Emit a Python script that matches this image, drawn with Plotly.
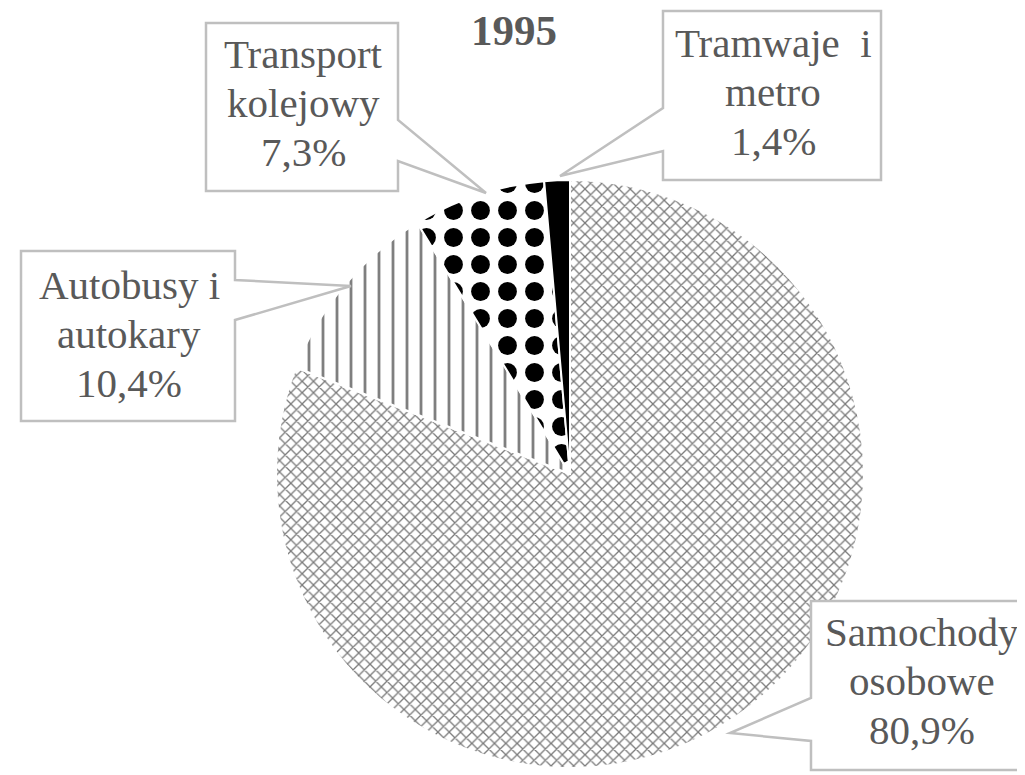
import plotly.graph_objects as go

# ---- data ----
categories = ["Samochody osobowe", "Autobusy i autokary", "Transport kolejowy", "Tramwaje i metro"]
values = [80.9, 10.4, 7.3, 1.4]
label_lines = [
    ["Samochody", "osobowe", "80,9%"],
    ["Autobusy i", "autokary", "10,4%"],
    ["Transport", "kolejowy", "7,3%"],
    ["Tramwaje  i", "metro", "1,4%"],
]
title_text = "1995"

# ---- layout constants (pixels) ----
W, H = 1025, 775
def px(x):
    return x / W
def py(y):
    return 1 - y / H

# pie geometry
cx, cy, r = 562, 466, 294

# callout boxes: left, top, right, bottom, side of pointer, pointer y1, y2, tip, text centre x, first line centre y
callouts = [
    dict(box=(803, 593, 1023, 762), side="left", p=(690, 733), tip=(722, 725), tx=914, ty=624),
    dict(box=(13, 243, 227, 413), side="right", p=(272, 312), tip=(343, 278), tx=121, ty=277),
    dict(box=(198, 15, 390, 183), side="right", p=(112, 153), tip=(478, 185), tx=295, ty=46),
    dict(box=(655, 3, 873, 172), side="left", p=(100, 143), tip=(552, 168), tx=765, ty=35),
]
LINE_GAP = 49

GRAY_TXT = "#595959"
BOX_LINE = "#bfbfbf"
FONT = "Liberation Serif, Times New Roman, serif"
FSIZE = 41

fig = go.Figure(go.Pie(
    labels=categories,
    values=values,
    sort=False,
    direction="clockwise",
    rotation=0,
    textinfo="none",
    hoverinfo="skip",
    showlegend=False,
    domain=dict(x=[px(cx - r), px(cx + r)], y=[py(cy + r), py(cy - r)]),
    marker=dict(
        colors=["white", "white", "white", "black"],
        line=dict(color="white", width=2),
        pattern=dict(
            shape=["x", "|", ".", ""],
            fgcolor=["#7a7a7a", "#7f7f7f", "#000000", "#000000"],
            bgcolor=["white", "white", "white", "black"],
            size=[8, 14, 27, 8],
            solidity=[0.3, 0.2, 0.38, 1],
            fillmode="replace",
        ),
    ),
))

shapes = []
annotations = []
for lines, c in zip(label_lines, callouts):
    l, t, rr, b = c["box"]
    y1, y2 = c["p"]
    tx, ty = c["tip"]
    if c["side"] == "right":
        pts = [(l, t), (rr, t), (rr, y1), (tx, ty), (rr, y2), (rr, b), (l, b)]
    else:
        pts = [(l, t), (rr, t), (rr, b), (l, b), (l, y2), (tx, ty), (l, y1)]
    path = "M " + " L ".join(f"{px(x):.5f},{py(y):.5f}" for x, y in pts) + " Z"
    shapes.append(dict(type="path", xref="paper", yref="paper", path=path,
                       line=dict(color=BOX_LINE, width=2.5), fillcolor="white", layer="above"))
    for i, line in enumerate(lines):
        annotations.append(dict(
            x=px(c["tx"]), y=py(c["ty"] + i * LINE_GAP), xref="paper", yref="paper",
            text=line, showarrow=False, align="center",
            xanchor="center", yanchor="middle",
            font=dict(family=FONT, size=FSIZE, color=GRAY_TXT),
        ))

annotations.append(dict(
    x=px(506), y=py(22), xref="paper", yref="paper", text=f"<b>{title_text}</b>",
    showarrow=False, xanchor="center", yanchor="middle",
    font=dict(family=FONT, size=43, color=GRAY_TXT),
))

fig.update_layout(
    width=W, height=H,
    margin=dict(l=0, r=0, t=0, b=0),
    paper_bgcolor="white", plot_bgcolor="white",
    shapes=shapes, annotations=annotations,
)

fig.write_html("out.html")
